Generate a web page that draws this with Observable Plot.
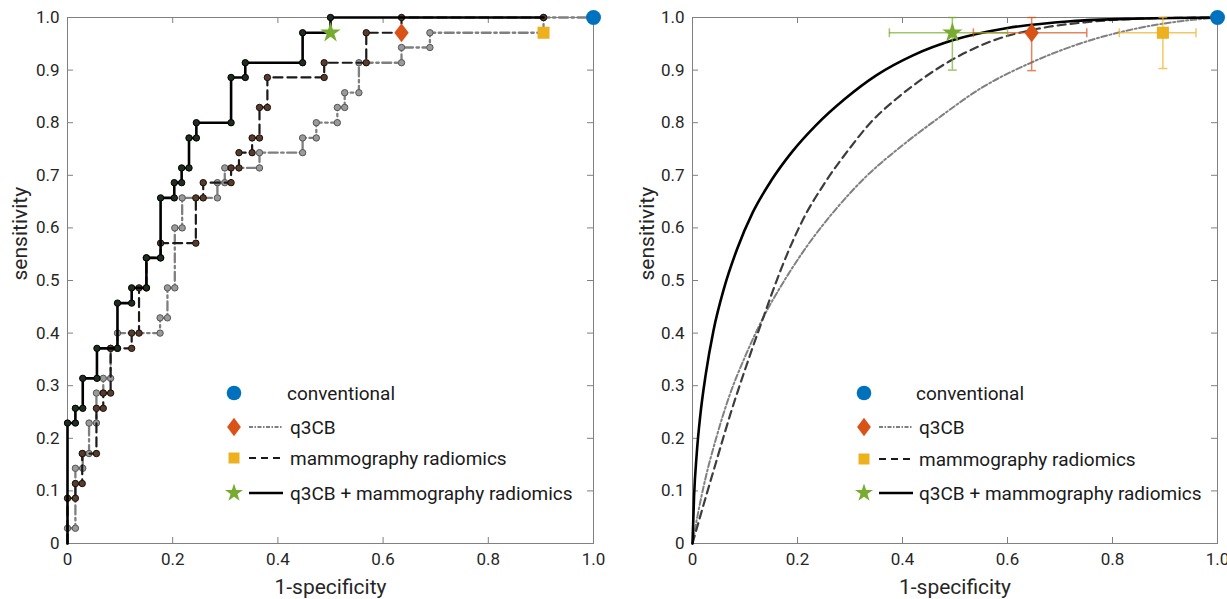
<!DOCTYPE html>
<html><head><meta charset="utf-8">
<script src="https://cdn.jsdelivr.net/npm/d3@7"></script>
<script src="https://cdn.jsdelivr.net/npm/@observablehq/plot@0.6"></script>
<style>
body{margin:0;background:#fff;font-family:Roboto,sans-serif;}
#wrap{position:relative;width:1227px;height:599px;overflow:hidden;background:#fff;}
#left{position:absolute;left:0;top:0;}
#right{position:absolute;left:625px;top:0;}
#legend{position:absolute;left:0;top:0;pointer-events:none;}
</style></head>
<body><div id="wrap"><div id="left"></div><div id="right"></div><svg id="legend" width="1227" height="599"></svg></div>
<script>
// ---------- tick values ----------
const xTicks = [0, 0.2, 0.4, 0.6, 0.8, 1.0];
const yTicks = [0, 0.1, 0.2, 0.3, 0.4, 0.5, 0.6, 0.7, 0.8, 0.9, 1.0];
const xTitle = "1-specificity";
const yTitle = "sensitivity";

// ---------- left panel: empirical ROC vertices ----------
const q3cbFpr = [0,0,0.015,0.015,0.029,0.029,0.041,0.041,0.055,0.055,0.068,0.068,0.082,0.082,0.095,0.095,0.176,0.176,0.190,0.190,0.204,0.204,0.218,0.218,0.285,0.285,0.299,0.299,0.365,0.365,0.447,0.447,0.473,0.473,0.513,0.513,0.527,0.527,0.554,0.554,0.635,0.635,0.689,0.689,0.905,0.905,1.0];
const q3cbTpr = [0,0.029,0.029,0.143,0.143,0.171,0.171,0.229,0.229,0.286,0.286,0.314,0.314,0.371,0.371,0.400,0.400,0.429,0.429,0.486,0.486,0.600,0.600,0.657,0.657,0.686,0.686,0.714,0.714,0.743,0.743,0.771,0.771,0.800,0.800,0.829,0.829,0.857,0.857,0.914,0.914,0.943,0.943,0.971,0.971,1.0,1.0];

const mammoFpr = [0,0,0.015,0.015,0.028,0.028,0.055,0.055,0.068,0.068,0.082,0.082,0.122,0.122,0.136,0.136,0.150,0.150,0.177,0.177,0.244,0.244,0.258,0.258,0.311,0.311,0.326,0.326,0.351,0.351,0.365,0.365,0.380,0.380,0.488,0.488,0.568,0.568,0.635,0.635,0.905];
const mammoTpr = [0,0.086,0.086,0.114,0.114,0.171,0.171,0.257,0.257,0.286,0.286,0.371,0.371,0.400,0.400,0.486,0.486,0.543,0.543,0.571,0.571,0.657,0.657,0.686,0.686,0.714,0.714,0.743,0.743,0.771,0.771,0.829,0.829,0.886,0.886,0.914,0.914,0.971,0.971,1.0,1.0];

const comboFpr = [0,0,0.015,0.015,0.029,0.029,0.056,0.056,0.095,0.095,0.122,0.122,0.150,0.150,0.177,0.177,0.203,0.203,0.217,0.217,0.231,0.231,0.245,0.245,0.311,0.311,0.338,0.338,0.447,0.447,0.500,0.500,0.905];
const comboTpr = [0,0.229,0.229,0.257,0.257,0.314,0.314,0.371,0.371,0.457,0.457,0.486,0.486,0.543,0.543,0.657,0.657,0.686,0.686,0.714,0.714,0.771,0.771,0.800,0.800,0.886,0.886,0.914,0.914,0.971,0.971,1.0,1.0];

// ---------- right panel: fitted ROC curves ----------
const q3cbFitFpr = [0,0.01,0.025,0.045,0.07,0.1,0.135,0.175,0.22,0.27,0.33,0.4,0.47,0.55,0.64,0.74,0.85,0.93,1];
const q3cbFitTpr = [0,0.055,0.125,0.2,0.28,0.355,0.43,0.5,0.568,0.632,0.697,0.757,0.81,0.866,0.912,0.951,0.98,0.993,1];
const mammoFitFpr = [0,0.02,0.045,0.075,0.105,0.135,0.17,0.21,0.255,0.3,0.339,0.389,0.44,0.495,0.575,0.66,0.75,0.86,1];
const mammoFitTpr = [0,0.07,0.155,0.255,0.345,0.43,0.525,0.615,0.69,0.752,0.8,0.846,0.885,0.92,0.957,0.979,0.991,0.998,1];
const comboFitFpr = [0,0.003,0.008,0.015,0.025,0.04,0.06,0.085,0.115,0.15,0.19,0.235,0.29,0.35,0.42,0.5,0.6,0.72,0.85,1];
const comboFitTpr = [0,0.09,0.17,0.245,0.32,0.405,0.485,0.56,0.63,0.69,0.745,0.795,0.845,0.89,0.928,0.958,0.98,0.993,0.998,1];

// ---------- operating points ----------
const opNames = ["conventional", "q3CB", "mammography radiomics", "q3CB + mammography radiomics"];
const opColors = ["#0072BD", "#D95319", "#EDB120", "#77AC30"];
const opLeftFpr = [1.0, 0.635, 0.905, 0.5];
const opLeftTpr = [1.0, 0.971, 0.971, 0.971];
const opRightFpr = [1.0, 0.646, 0.896, 0.495];
const opRightTpr = [1.0, 0.971, 0.971, 0.971];
const opRightFprLo = [null, 0.535, 0.813, 0.375];
const opRightFprHi = [null, 0.751, 0.959, 0.600];
const opRightTprLo = [null, 0.899, 0.903, 0.900];
const opRightTprHi = [null, 1.0, 1.0, 1.0];

// ---------- styles ----------
const axisColor = "#808080";
const textColor = "#262626";
const fmt = d => d === 0 ? "0" : d.toFixed(1);
const diamondSym = {draw(ctx, size) {const h = Math.sqrt(size) * 0.9, w = h * 0.75; ctx.moveTo(0, -h); ctx.lineTo(w, 0); ctx.lineTo(0, h); ctx.lineTo(-w, 0); ctx.closePath();}};
const hCap = {draw(ctx, size) {const r = Math.sqrt(size) / 2; ctx.moveTo(-r, 0); ctx.lineTo(r, 0);}};
const vCap = {draw(ctx, size) {const r = Math.sqrt(size) / 2; ctx.moveTo(0, -r); ctx.lineTo(0, r);}};
const opSymbols = ["circle", diamondSym, "square", "star"];
const opR = [7.5, 6, 6.8, 6.4];

const zipXY = (xs, ys) => xs.map((x, i) => ({fpr: x, tpr: ys[i]}));

function axesMarks(fw, fh, ylabDx) {
  const T = 6;
  return [
    Plot.frame({stroke: axisColor, strokeWidth: 1}),
    Plot.tickX(xTicks, {x: d => d, insetTop: fh - T, stroke: axisColor}),
    Plot.tickX(xTicks, {x: d => d, insetBottom: fh - T, stroke: axisColor}),
    Plot.tickY(yTicks, {y: d => d, insetRight: fw - T, stroke: axisColor}),
    Plot.tickY(yTicks, {y: d => d, insetLeft: fw - T, stroke: axisColor}),
    Plot.axisX({ticks: xTicks, tickSize: 0, tickPadding: 9, tickFormat: fmt, fontSize: 17, label: null}),
    Plot.axisY({ticks: yTicks, tickSize: 0, tickPadding: 8, tickFormat: fmt, fontSize: 17, label: null}),
    Plot.text([xTitle], {text: d => d, frameAnchor: "bottom", dy: 50, fontSize: 21}),
    Plot.text([yTitle], {text: d => d, frameAnchor: "left", rotate: -90, dx: ylabDx, fontSize: 21})
  ];
}

function opMarks(xs, ys) {
  return opNames.map((n, i) => Plot.dot([{fpr: xs[i], tpr: ys[i]}], {
    x: "fpr", y: "tpr", symbol: opSymbols[i], r: opR[i], fill: opColors[i], stroke: "none"
  }));
}

// ---------- left panel ----------
const lq = zipXY(q3cbFpr, q3cbTpr), lm = zipXY(mammoFpr, mammoTpr), lc = zipXY(comboFpr, comboTpr);
const L = {w: 613, h: 599, ml: 67, mr: 20, mt: 17, mb: 56};
const leftPlot = Plot.plot({
  width: L.w, height: L.h, marginLeft: L.ml, marginRight: L.mr, marginTop: L.mt, marginBottom: L.mb,
  x: {domain: [0, 1]}, y: {domain: [0, 1]},
  style: {fontFamily: "Roboto, sans-serif", color: textColor, background: "transparent", overflow: "visible"},
  marks: [
    ...axesMarks(L.w - L.ml - L.mr, L.h - L.mt - L.mb, -47),
    Plot.line(lq, {x: "fpr", y: "tpr", stroke: "#7f7f7f", strokeWidth: 2.3, strokeDasharray: "9,3.5,2.5,3.5"}),
    Plot.dot(lq.slice(1, -1), {x: "fpr", y: "tpr", r: 3.2, fill: "#9a9a9a", stroke: "#555", strokeWidth: 1}),
    Plot.line(lm, {x: "fpr", y: "tpr", stroke: "#1a1a1a", strokeWidth: 2.2, strokeDasharray: "9,5"}),
    Plot.dot(lm.slice(1), {x: "fpr", y: "tpr", r: 3.2, fill: "#5b3b28", stroke: "#111", strokeWidth: 1}),
    Plot.line(lc, {x: "fpr", y: "tpr", stroke: "#000", strokeWidth: 2.6}),
    Plot.dot(lc.slice(1, -1), {x: "fpr", y: "tpr", r: 3.2, fill: "#1e2e1e", stroke: "#000", strokeWidth: 1}),
    ...opMarks(opLeftFpr, opLeftTpr)
  ]
});
document.getElementById("left").append(leftPlot);

// ---------- right panel ----------
const rq = zipXY(q3cbFitFpr, q3cbFitTpr), rm = zipXY(mammoFitFpr, mammoFitTpr), rc = zipXY(comboFitFpr, comboFitTpr);
const errs = opNames.map((n, i) => ({
  name: n, color: opColors[i], fpr: opRightFpr[i], tpr: opRightTpr[i],
  xlo: opRightFprLo[i], xhi: opRightFprHi[i], ylo: opRightTprLo[i], yhi: opRightTprHi[i]
})).filter(d => d.xlo != null);
const R = {w: 602, h: 599, ml: 67, mr: 10, mt: 17, mb: 56};
const rightPlot = Plot.plot({
  width: R.w, height: R.h, marginLeft: R.ml, marginRight: R.mr, marginTop: R.mt, marginBottom: R.mb,
  x: {domain: [0, 1]}, y: {domain: [0, 1]},
  style: {fontFamily: "Roboto, sans-serif", color: textColor, background: "transparent", overflow: "visible"},
  marks: [
    ...axesMarks(R.w - R.ml - R.mr, R.h - R.mt - R.mb, -45),
    Plot.line(rq, {x: "fpr", y: "tpr", curve: "monotone-x", stroke: "#808080", strokeWidth: 2, strokeDasharray: "6,2.5,2,2.5"}),
    Plot.line(rm, {x: "fpr", y: "tpr", curve: "monotone-x", stroke: "#3c3c3c", strokeWidth: 2.2, strokeDasharray: "8,5"}),
    Plot.line(rc, {x: "fpr", y: "tpr", curve: "monotone-x", stroke: "#000", strokeWidth: 2.6}),
    Plot.ruleY(errs, {y: "tpr", x1: "xlo", x2: "xhi", stroke: "color", strokeOpacity: 0.7, strokeWidth: 1.5}),
    Plot.ruleX(errs, {x: "fpr", y1: "ylo", y2: "yhi", stroke: "color", strokeOpacity: 0.7, strokeWidth: 1.5}),
    Plot.dot(errs, {x: "xlo", y: "tpr", symbol: vCap, r: 5, stroke: "color", strokeOpacity: 0.7, strokeWidth: 1.5}),
    Plot.dot(errs, {x: "xhi", y: "tpr", symbol: vCap, r: 5, stroke: "color", strokeOpacity: 0.7, strokeWidth: 1.5}),
    Plot.dot(errs, {x: "fpr", y: "ylo", symbol: hCap, r: 5, stroke: "color", strokeOpacity: 0.7, strokeWidth: 1.5}),
    Plot.dot(errs, {x: "fpr", y: "yhi", symbol: hCap, r: 5, stroke: "color", strokeOpacity: 0.7, strokeWidth: 1.5}),
    ...opMarks(opRightFpr, opRightTpr)
  ]
});
document.getElementById("right").append(rightPlot);

// ---------- legends ----------
const legendLine = [null,
  {stroke: "#7f7f7f", dash: "4,1.5,1.5,1.5", width: 2},
  {stroke: "#1a1a1a", dash: "7,5", width: 2},
  {stroke: "#000", dash: null, width: 2.4}];
const legSym = [
  d3.symbol(d3.symbolCircle, Math.PI * 7.3 * 7.3),
  d3.symbol(diamondSym, Math.pow(9.2 / 0.9, 2)),
  d3.symbol(d3.symbolSquare, 11 * 11),
  d3.symbol(d3.symbolStar, 9.5 * 9.5 / 0.8908)
];
function drawLegend(symX, lineX1, lineX2, textX, rowY) {
  const g = d3.select("#legend").append("g");
  opNames.forEach((n, i) => {
    if (legendLine[i]) {
      g.append("line").attr("x1", lineX1).attr("x2", lineX2).attr("y1", rowY[i]).attr("y2", rowY[i])
        .attr("stroke", legendLine[i].stroke).attr("stroke-width", legendLine[i].width)
        .attr("stroke-dasharray", legendLine[i].dash);
    }
    g.append("path").attr("d", legSym[i]()).attr("fill", opColors[i])
      .attr("transform", `translate(${symX},${rowY[i]})`);
    g.append("text").attr("x", textX[i]).attr("y", rowY[i]).attr("dy", "0.35em")
      .attr("font-family", "Roboto, sans-serif").attr("font-size", 19).attr("fill", "#1a1a1a").text(n);
  });
}
drawLegend(234, 249, 283, [287, 290, 290, 290], [393, 427, 458, 493]);
drawLegend(864, 879, 913, [916, 919, 919, 919], [393, 427, 459, 493]);
</script></body></html>
